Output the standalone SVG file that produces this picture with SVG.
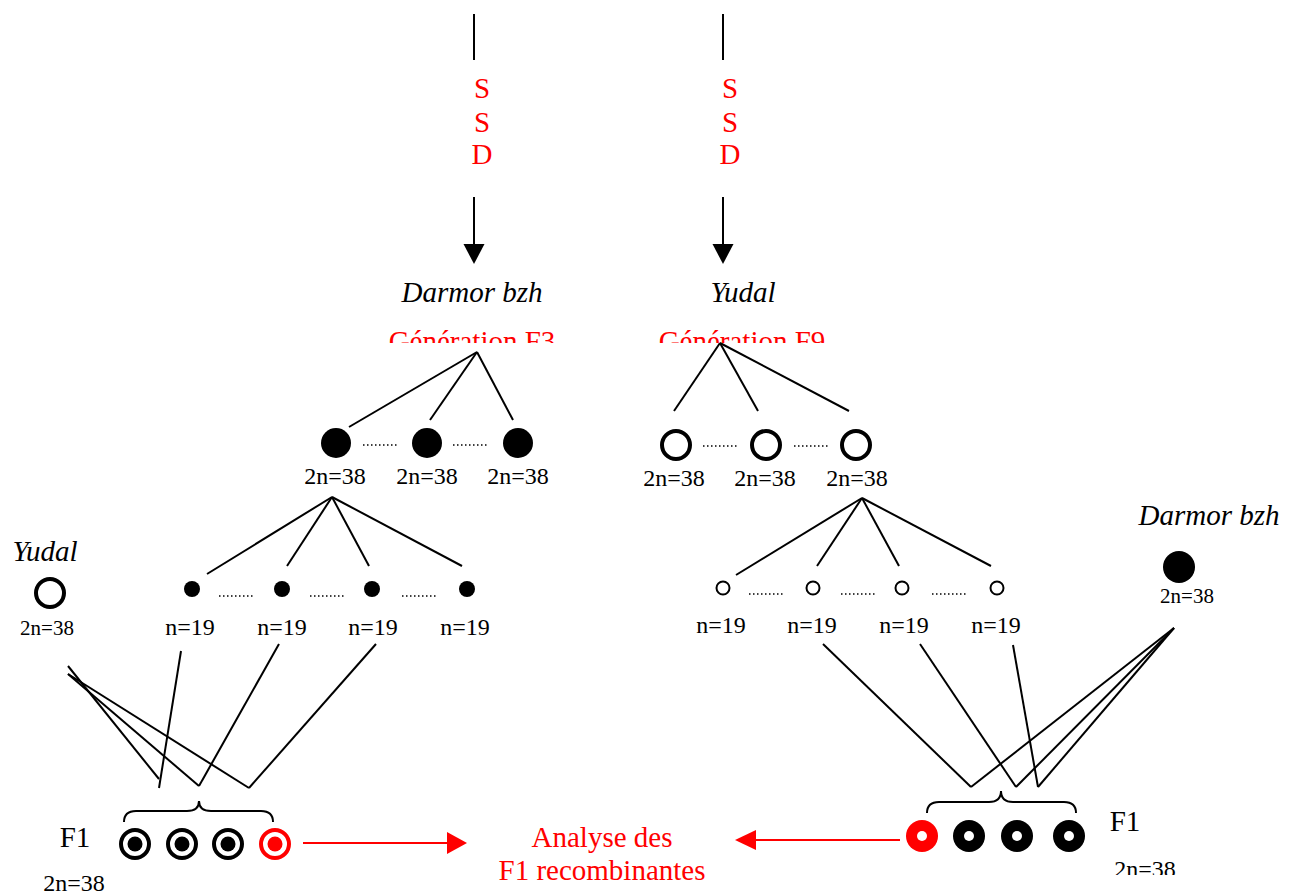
<svg xmlns="http://www.w3.org/2000/svg" width="1295" height="894" viewBox="0 0 1295 894">
<style>
text{font-family:"Liberation Serif","Times New Roman",serif;}
.big{font-size:29px;}
.it{font-size:29px;font-style:italic;fill:#000;}
.red{fill:#ff0000;}
.sm{font-size:24px;fill:#000;}
.xs{font-size:21px;fill:#000;}
.ln{stroke:#000;stroke-width:2;fill:none;}
.dot{stroke:#000;stroke-width:1.5;stroke-dasharray:1.5 2.5;fill:none;}
.open{fill:#fff;stroke:#000;stroke-width:4;}
.opensm{fill:#fff;stroke:#000;stroke-width:2;}
</style>
<defs>
<clipPath id="clipGen"><rect x="0" y="0" width="1295" height="343"/></clipPath>
<clipPath id="clipBR"><rect x="0" y="0" width="1295" height="875"/></clipPath>
</defs>
<rect width="1295" height="894" fill="#fff"/>

<g id="connectors">
  <line class="ln" x1="474" y1="14" x2="474" y2="60"/>
  <line class="ln" x1="474" y1="197" x2="474" y2="246"/>
  <polygon points="463.5,244 484.5,244 474,264" fill="#000"/>
  <line class="ln" x1="723" y1="14" x2="723" y2="60"/>
  <line class="ln" x1="723" y1="197" x2="723" y2="246"/>
  <polygon points="712.5,244 733.5,244 723,264" fill="#000"/>
  <!-- tree F3 -->
  <line class="ln" x1="477" y1="352" x2="349" y2="427"/>
  <line class="ln" x1="477" y1="352" x2="430" y2="420"/>
  <line class="ln" x1="477" y1="352" x2="513" y2="420"/>
  <!-- tree F9 -->
  <line class="ln" x1="720" y1="343" x2="674" y2="411"/>
  <line class="ln" x1="720" y1="343" x2="758" y2="411"/>
  <line class="ln" x1="720" y1="343" x2="849" y2="411"/>
  <!-- dotted -->
  <line class="dot" x1="363" y1="445" x2="398" y2="445"/>
  <line class="dot" x1="453" y1="445" x2="489" y2="445"/>
  <line class="dot" x1="703" y1="446" x2="738" y2="446"/>
  <line class="dot" x1="794" y1="446" x2="829" y2="446"/>
  <!-- left gametes tree -->
  <line class="ln" x1="332" y1="497" x2="207" y2="574"/>
  <line class="ln" x1="332" y1="497" x2="287" y2="566"/>
  <line class="ln" x1="332" y1="497" x2="369" y2="566"/>
  <line class="ln" x1="332" y1="497" x2="462" y2="566"/>
  <line class="dot" x1="219" y1="596" x2="254" y2="596"/>
  <line class="dot" x1="310" y1="596" x2="345" y2="596"/>
  <line class="dot" x1="402" y1="596" x2="437" y2="596"/>
  <!-- right gametes tree -->
  <line class="ln" x1="862" y1="498" x2="736" y2="575"/>
  <line class="ln" x1="862" y1="498" x2="817" y2="566"/>
  <line class="ln" x1="862" y1="498" x2="899" y2="566"/>
  <line class="ln" x1="862" y1="498" x2="991" y2="566"/>
  <line class="dot" x1="749" y1="594" x2="785" y2="594"/>
  <line class="dot" x1="841" y1="594" x2="876" y2="594"/>
  <line class="dot" x1="932" y1="594" x2="968" y2="594"/>
  <!-- left crosses -->
  <line class="ln" x1="68" y1="666" x2="159" y2="779"/>
  <line class="ln" x1="68" y1="674" x2="199" y2="786"/>
  <line class="ln" x1="68" y1="674" x2="249" y2="788"/>
  <line class="ln" x1="181" y1="651" x2="159" y2="788"/>
  <line class="ln" x1="279" y1="644" x2="199" y2="786"/>
  <line class="ln" x1="376" y1="644" x2="249" y2="788"/>
  <!-- right crosses -->
  <line class="ln" x1="823" y1="644" x2="971" y2="787"/>
  <line class="ln" x1="920" y1="644" x2="1016" y2="787"/>
  <line class="ln" x1="1013" y1="645" x2="1038" y2="787"/>
  <line class="ln" x1="1174" y1="628" x2="971" y2="787"/>
  <line class="ln" x1="1174" y1="628" x2="1016" y2="787"/>
  <line class="ln" x1="1174" y1="628" x2="1038" y2="787"/>
  <!-- braces -->
  <path class="ln" d="M124,822 Q124,811 136,811 L187,811 Q199,811 199,801 Q199,811 211,811 L261,811 Q273,811 273,822"/>
  <path class="ln" d="M927,813 Q927,802 939,802 L989,802 Q1001,802 1001,791 Q1001,802 1013,802 L1064,802 Q1076,802 1076,813"/>
  <!-- red arrows -->
  <line x1="303" y1="843" x2="449" y2="843" stroke="#ff0000" stroke-width="2"/>
  <polygon points="447,832 447,854 467,843" fill="#ff0000"/>
  <line x1="900" y1="840" x2="754" y2="840" stroke="#ff0000" stroke-width="2"/>
  <polygon points="756,830 756,850 735,840" fill="#ff0000"/>
</g>

<g id="ssd-left">
  <text class="big red" x="482" y="98" text-anchor="middle">S</text>
  <text class="big red" x="482" y="132" text-anchor="middle">S</text>
  <text class="big red" x="482" y="164" text-anchor="middle">D</text>
</g>
<g id="ssd-right">
  <text class="big red" x="730" y="98" text-anchor="middle">S</text>
  <text class="big red" x="730" y="132" text-anchor="middle">S</text>
  <text class="big red" x="730" y="164" text-anchor="middle">D</text>
</g>

<g id="darmor-f3">
  <text class="it" x="472" y="302" text-anchor="middle">Darmor bzh</text>
  <text class="big red" x="472" y="351" text-anchor="middle" clip-path="url(#clipGen)">Génération F3</text>
</g>
<g id="yudal-f9">
  <text class="it" x="743" y="302" text-anchor="middle">Yudal</text>
  <text class="big red" x="742" y="351" text-anchor="middle" clip-path="url(#clipGen)">Génération F9</text>
</g>

<g id="darmor-plants">
  <circle cx="336" cy="443" r="15" fill="#000"/>
  <circle cx="427" cy="443" r="15" fill="#000"/>
  <circle cx="518" cy="443" r="15" fill="#000"/>
  <text class="sm" x="335" y="484" text-anchor="middle">2n=38</text>
  <text class="sm" x="427" y="484" text-anchor="middle">2n=38</text>
  <text class="sm" x="518" y="484" text-anchor="middle">2n=38</text>
</g>
<g id="yudal-plants">
  <circle class="open" cx="676" cy="445" r="14"/>
  <circle class="open" cx="766" cy="445" r="14"/>
  <circle class="open" cx="856" cy="445" r="14"/>
  <text class="sm" x="674" y="486" text-anchor="middle">2n=38</text>
  <text class="sm" x="765" y="486" text-anchor="middle">2n=38</text>
  <text class="sm" x="857" y="486" text-anchor="middle">2n=38</text>
</g>

<g id="darmor-gametes">
  <circle cx="192" cy="589" r="8" fill="#000"/>
  <circle cx="282" cy="589" r="8" fill="#000"/>
  <circle cx="372" cy="589" r="8" fill="#000"/>
  <circle cx="467" cy="589" r="8" fill="#000"/>
  <text class="sm" x="190" y="635" text-anchor="middle">n=19</text>
  <text class="sm" x="282" y="635" text-anchor="middle">n=19</text>
  <text class="sm" x="373" y="635" text-anchor="middle">n=19</text>
  <text class="sm" x="465" y="635" text-anchor="middle">n=19</text>
</g>
<g id="yudal-gametes">
  <circle class="opensm" cx="723" cy="588" r="6.5"/>
  <circle class="opensm" cx="813" cy="588" r="6.5"/>
  <circle class="opensm" cx="902" cy="588" r="6.5"/>
  <circle class="opensm" cx="997" cy="588" r="6.5"/>
  <text class="sm" x="721" y="633" text-anchor="middle">n=19</text>
  <text class="sm" x="812" y="633" text-anchor="middle">n=19</text>
  <text class="sm" x="904" y="633" text-anchor="middle">n=19</text>
  <text class="sm" x="996" y="633" text-anchor="middle">n=19</text>
</g>

<g id="yudal-parent">
  <text class="it" x="45" y="561" text-anchor="middle">Yudal</text>
  <circle class="open" cx="50" cy="593" r="14"/>
  <text class="xs" x="47" y="635" text-anchor="middle">2n=38</text>
</g>
<g id="darmor-parent">
  <text class="it" x="1209" y="525" text-anchor="middle">Darmor bzh</text>
  <circle cx="1179" cy="567" r="16" fill="#000"/>
  <text class="xs" x="1187" y="603" text-anchor="middle">2n=38</text>
</g>

<g id="f1-left">
  <text class="big" x="75" y="847" text-anchor="middle">F1</text>
  <circle class="open" cx="135" cy="844" r="14"/>
  <circle cx="135" cy="844" r="7.5" fill="#000"/>
  <circle class="open" cx="182" cy="844" r="14"/>
  <circle cx="182" cy="844" r="7.5" fill="#000"/>
  <circle class="open" cx="228" cy="844" r="14"/>
  <circle cx="228" cy="844" r="7.5" fill="#000"/>
  <circle cx="275" cy="844" r="14" fill="#fff" stroke="#ff0000" stroke-width="4"/>
  <circle cx="275" cy="844" r="7.5" fill="#ff0000"/>
  <text class="sm" x="74" y="891" text-anchor="middle">2n=38</text>
</g>

<g id="f1-right">
  <circle cx="922" cy="836" r="16" fill="#ff0000"/>
  <circle cx="922" cy="836" r="5" fill="#fff"/>
  <circle cx="969" cy="836" r="16" fill="#000"/>
  <circle cx="969" cy="836" r="5" fill="#fff"/>
  <circle cx="1017" cy="836" r="16" fill="#000"/>
  <circle cx="1017" cy="836" r="5" fill="#fff"/>
  <circle cx="1069" cy="836" r="16" fill="#000"/>
  <circle cx="1069" cy="836" r="5" fill="#fff"/>
  <text class="big" x="1125" y="831" text-anchor="middle">F1</text>
  <text class="sm" x="1145" y="877" text-anchor="middle" clip-path="url(#clipBR)">2n=38</text>
</g>

<g id="analyse">
  <text class="big red" x="602" y="847" text-anchor="middle">Analyse des</text>
  <text class="big red" x="602" y="880" text-anchor="middle">F1 recombinantes</text>
</g>
</svg>
